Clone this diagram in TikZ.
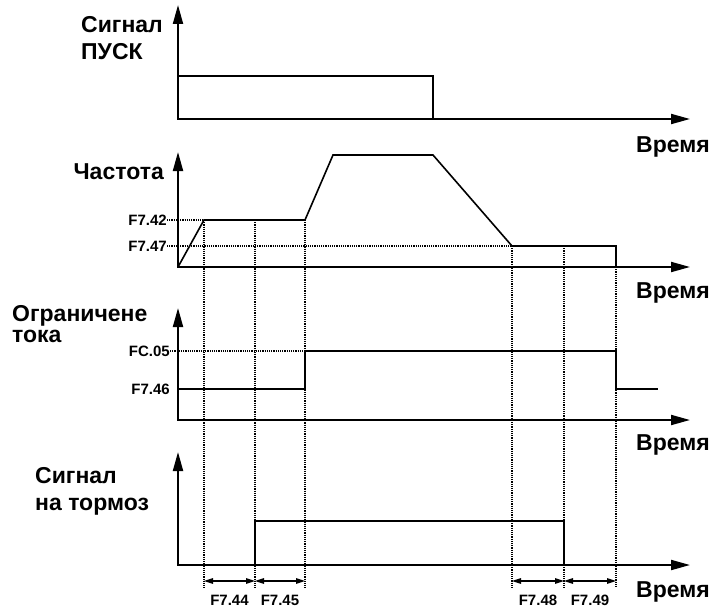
\documentclass[tikz,border=0pt]{standalone}
\usepackage{fontspec}
\setmainfont{Liberation Sans}
\usetikzlibrary{arrows.meta,calc}
\begin{document}
\begin{tikzpicture}[x=1pt, y=-1pt,
  every node/.style={font=\bfseries\fontsize{23}{27}\selectfont, inner sep=0pt}]
  \useasboundingbox (0,0) rectangle (712,610);
  \tikzset{
    axis/.style={line width=2pt, line join=miter,
      {Triangle[length=19pt,width=10pt]}-{Triangle[length=19pt,width=10pt]}},
    sig/.style={line width=1.6pt, line join=miter},
    guide/.style={line width=1.1pt, dash pattern=on 1.1pt off 1.1pt},
    dimarrow/.style={line width=1.3pt,
      {Triangle[length=9pt,width=5.5pt]}-{Triangle[length=9pt,width=5.5pt]}},
    lvl/.style={font=\bfseries\fontsize{15}{18}\selectfont, anchor=east},
    ttl/.style={align=left, anchor=north west},
  }

  % axes of the four panels
  \foreach \p/\yb/\yt/\yl in {a/119/5/152, b/267/152/298, c/420/308/450, d/565/452/597}{
    \coordinate (o\p) at (178,\yb);
    \coordinate (top\p) at (178,\yt);
    \coordinate (end\p) at (690,\yb);
    \draw[axis] (top\p) -- (o\p) -- (end\p);
    \node[anchor=base west] (time\p) at (636,\yl) {Время};
  }

  % titles
  \node[ttl] (tita) at (81,16) {Сигнал\\ПУСК};
  \node[anchor=base east] (titb) at (164,179) {Частота};
  \node[ttl, font=\bfseries\fontsize{23}{21}\selectfont] (titc) at (12,305) {Ограничене\\тока};
  \node[ttl] (titd) at (35,467) {Сигнал\\на тормоз};

  % level labels
  \node[lvl] (l42) at (167,220) {F7.42};
  \node[lvl] (l47) at (167,246) {F7.47};
  \node[lvl] (l05) at (170,351) {FC.05};
  \node[lvl] (l46) at (170,389) {F7.46};

  % start signal
  \coordinate (a1) at (178,76);
  \coordinate (a2) at (433,76);
  \coordinate (a3) at (433,119);
  \draw[sig] (a1) -- (a2) -- (a3);

  % frequency
  \coordinate (b1) at (204,220);
  \coordinate (b2) at (255,220);
  \coordinate (b3) at (305,220);
  \coordinate (b4) at (333,155);
  \coordinate (b5) at (433,155);
  \coordinate (b6) at (512,246);
  \coordinate (b7) at (564,246);
  \coordinate (b8) at (616,246);
  \coordinate (b9) at (616,267);
  \draw[sig] (ob) -- (b1) -- (b3) -- (b4) -- (b5) -- (b6) -- (b8) -- (b9);

  % current limit
  \coordinate (c1) at (178,389);
  \coordinate (c2) at (305,389);
  \coordinate (c3) at (305,351);
  \coordinate (c4) at (616,351);
  \coordinate (c5) at (616,389);
  \coordinate (c6) at (658,389);
  \draw[sig] (c1) -- (c2) -- (c3) -- (c4) -- (c5) -- (c6);

  % brake signal
  \coordinate (d1) at (255,565);
  \coordinate (d2) at (255,521);
  \coordinate (d3) at (564,521);
  \coordinate (d4) at (564,565);
  \draw[sig] (d1) -- (d2) -- (d3) -- (d4);

  % dotted guides
  \draw[guide] (l42.east) -- (b1);
  \draw[guide] (l47.east) -- (b6);
  \draw[guide] (l05.east) -- (c3);
  \foreach \n/\x in {1/204, 2/255, 3/305, 6/512, 7/564, 9/616}{
    \coordinate (g\n) at (\x,588);
    \coordinate (m\n) at (\x,581);
    \draw[guide] (b\n) -- (g\n);
  }

  % delay times
  \foreach \s/\e/\lab in {1/2/F7.44, 2/3/F7.45, 6/7/F7.48, 7/9/F7.49}{
    \draw[dimarrow] (m\s) -- (m\e);
    \node[lvl, anchor=base] (dim\s) at ($(m\s)!0.5!(m\e)+(0,24)$) {\lab};
  }
\end{tikzpicture}
\end{document}
